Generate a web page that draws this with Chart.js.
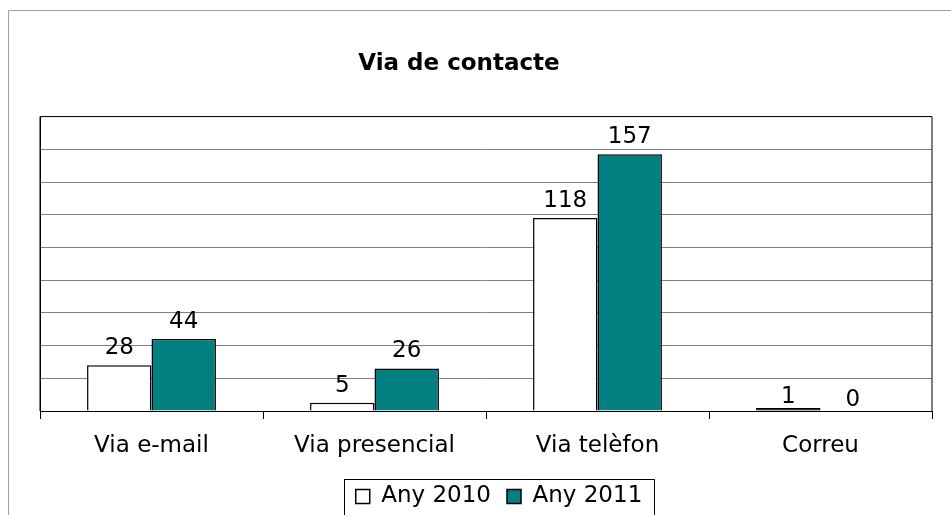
<!DOCTYPE html>
<html lang="ca">
<head>
    <meta charset="UTF-8">
    <title>Via de contacte</title>
    <script src="https://cdn.jsdelivr.net/npm/chart.js"></script>
    <style>
        html, body { margin: 0; padding: 0; background: #fff; overflow: hidden; }
        #wrap { width: 951px; height: 515px; }
    </style>
</head>
<body>
    <div id="wrap"><canvas id="contactChart"></canvas></div>
    <script>
        // Chart data
        const categories = ['Via e-mail', 'Via presencial', 'Via telèfon', 'Correu'];
        const seriesNames = ['Any 2010', 'Any 2011'];
        const values2010 = [28, 5, 118, 1];
        const values2011 = [44, 26, 157, 0];
        const yTicks = [0, 20, 40, 60, 80, 100, 120, 140, 160, 180];

        const FONT = 'DejaVu Sans, Verdana, sans-serif';
        const GRID = '#808080';

        // outer frame, plot frame, legend box and value labels
        const decorations = {
            id: 'decorations',
            afterLayout(chart) {
                // title and legend are a bit off centre in the original
                const lg = chart.legend;
                lg.left += 13;
                lg.right += 13;
                const tb = chart.titleBlock;
                tb.left -= 27;
                tb.right -= 27;
            },
            beforeDraw(chart) {
                const ctx = chart.ctx;
                ctx.save();
                ctx.fillStyle = '#fff';
                ctx.fillRect(0, 0, chart.width, chart.height);
                ctx.strokeStyle = '#a0a0a0';
                ctx.lineWidth = 1;
                ctx.beginPath();
                ctx.moveTo(8.5, chart.height);
                ctx.lineTo(8.5, 10.5);
                ctx.lineTo(chart.width, 10.5);
                ctx.stroke();
                ctx.restore();
            },
            afterDraw(chart) {
                const ctx = chart.ctx;
                const a = chart.chartArea;
                ctx.save();
                ctx.strokeStyle = '#000';
                ctx.lineWidth = 1;
                ctx.beginPath();
                ctx.moveTo(a.left, a.bottom);
                ctx.lineTo(a.left, a.top);
                ctx.lineTo(a.right, a.top);
                ctx.lineTo(a.right, a.bottom);
                ctx.stroke();

                // legend border
                const hb = chart.legend.legendHitBoxes;
                if (hb && hb.length) {
                    const first = hb[0], last = hb[hb.length - 1];
                    const x0 = first.left - 12;
                    const x1 = last.left + last.width + 11;
                    const y0 = first.top + first.height / 2 - 18;
                    ctx.strokeStyle = '#000';
                    ctx.strokeRect(Math.round(x0) + 0.5, Math.round(y0) + 0.5, Math.round(x1 - x0), 40);
                }

                // value labels above bars
                ctx.fillStyle = '#000';
                ctx.font = '23px ' + FONT;
                ctx.textAlign = 'center';
                ctx.textBaseline = 'alphabetic';
                chart.data.datasets.forEach((ds, i) => {
                    chart.getDatasetMeta(i).data.forEach((bar, j) => {
                        const gap = ds.data[j] < 3 ? 5 : 11;
                        ctx.fillText(String(ds.data[j]), bar.x, bar.y - gap);
                    });
                });
                ctx.restore();
            }
        };

        new Chart(document.getElementById('contactChart'), {
            type: 'bar',
            data: {
                labels: categories,
                datasets: [{
                    label: seriesNames[0],
                    data: values2010,
                    // a 1-unit bar shows up as a solid black stroke in the original
                    backgroundColor: c => (c.raw !== undefined && c.raw > 0 && c.raw < 3) ? '#000000' : '#ffffff',
                    borderColor: '#000000',
                    borderWidth: 1.5,
                    minBarLength: 3,
                    categoryPercentage: 0.578,
                    barPercentage: 1
                }, {
                    label: seriesNames[1],
                    data: values2011,
                    backgroundColor: '#008080',
                    borderColor: '#000000',
                    borderWidth: 1.5,
                    categoryPercentage: 0.578,
                    barPercentage: 1
                }]
            },
            options: {
                responsive: true,
                maintainAspectRatio: false,
                animation: false,
                layout: { padding: { left: 40, right: 19, top: 0, bottom: -3 } },
                plugins: {
                    title: {
                        display: true,
                        text: 'Via de contacte',
                        color: '#000',
                        font: { family: FONT, size: 23, weight: 'bold' },
                        padding: { top: 50, bottom: 39 }
                    },
                    legend: {
                        position: 'bottom',
                        labels: {
                            color: '#000',
                            font: { family: FONT, size: 23 },
                            boxWidth: 14,
                            boxHeight: 14,
                            padding: 16,
                            generateLabels(chart) {
                                return chart.data.datasets.map((ds, i) => ({
                                    text: ds.label,
                                    fillStyle: i === 0 ? '#ffffff' : ds.backgroundColor,
                                    strokeStyle: '#000000',
                                    lineWidth: 1.5,
                                    fontColor: '#000',
                                    hidden: false,
                                    datasetIndex: i
                                }));
                            }
                        }
                    },
                    tooltip: { enabled: false }
                },
                scales: {
                    x: {
                        grid: {
                            drawOnChartArea: false,
                            drawTicks: true,
                            tickLength: 8,
                            color: '#000'
                        },
                        border: { color: '#000', width: 1 },
                        ticks: {
                            color: '#000',
                            font: { family: FONT, size: 23 },
                            padding: 13,
                            maxRotation: 0
                        },
                        afterFit(scale) { scale.height = 58; }
                    },
                    y: {
                        min: yTicks[0],
                        max: yTicks[yTicks.length - 1],
                        afterBuildTicks(scale) {
                            scale.ticks = yTicks.map(v => ({ value: v }));
                        },
                        grid: { color: GRID, drawTicks: false },
                        border: { color: '#000', width: 1 },
                        ticks: { display: false }
                    }
                }
            },
            plugins: [decorations]
        });
    </script>
</body>
</html>
